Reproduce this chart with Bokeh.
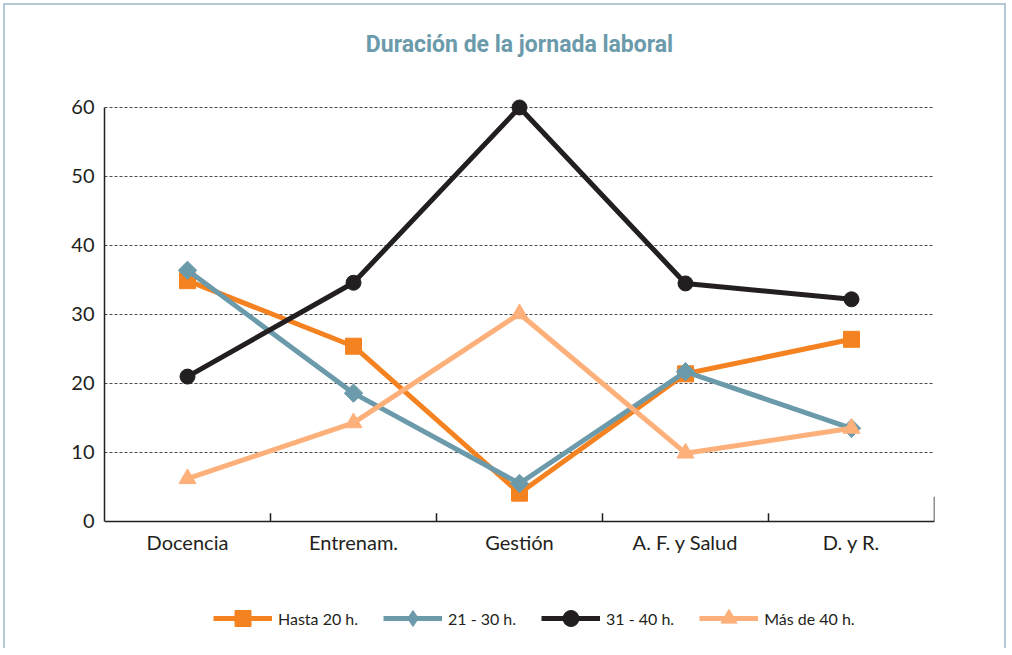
import math
from bokeh.plotting import figure
from bokeh.models import FactorRange, Range1d, Legend, LegendItem, FixedTicker, Span, Label
from bokeh.embed import file_html
from bokeh.resources import INLINE

categories = ["Docencia", "Entrenam.", "Gestión", "A. F. y Salud", "D. y R."]
hasta_20 = [34.9, 25.4, 4.1, 21.4, 26.4]
h21_30 = [36.4, 18.6, 5.5, 21.7, 13.5]
h31_40 = [21.0, 34.6, 60.0, 34.5, 32.2]
mas_40 = [6.2, 14.3, 30.1, 9.9, 13.5]
series_labels = ["Hasta 20 h.", "21 - 30 h.", "31 - 40 h.", "Más de 40 h."]
y_ticks = [0, 10, 20, 30, 40, 50, 60]
title_text = "Duración de la jornada laboral"

TXT = "#231f20"
W, H = 1003, 645
# the frame fills the canvas vertically so that the title and the legend,
# drawn as annotations, stay inside it; 0..60 keeps 6.9 px per unit
p = figure(width=W, height=H,
           x_range=FactorRange(factors=categories, range_padding=0),
           y_range=Range1d(-17.54, 74.78),
           output_backend="svg", toolbar_location=None,
           min_border_left=99, min_border_right=74,
           min_border_top=0, min_border_bottom=8)
p.styles = {"margin-left": "3px", "margin-top": "3px",
            "border-top": "2px solid #b4c9d3",
            "border-left": "2px solid #b4c9d3",
            "border-right": "2px solid #b4c9d3"}
p.outline_line_color = None
p.background_fill_color = "white"
p.border_fill_color = "white"

# title
p.add_layout(Label(x=len(categories) / 2, y=69.13, text=title_text,
                   text_align="center", text_baseline="middle",
                   text_font="Roboto", text_font_size="23px",
                   text_font_style="bold", text_color="#6b9aab"))

# y axis
p.yaxis.ticker = FixedTicker(ticks=y_ticks)
p.yaxis.bounds = (y_ticks[0], y_ticks[-1])
p.yaxis.major_tick_line_color = None
p.yaxis.minor_tick_line_color = None
p.yaxis.major_label_text_font = "Lato"
p.yaxis.major_label_text_font_size = "20px"
p.yaxis.major_label_text_color = TXT
p.yaxis.major_label_standoff = 4
p.yaxis.axis_line_color = TXT
p.yaxis.axis_line_width = 1.5

# x axis: category labels drawn inside the frame just under the zero line
p.xaxis.fixed_location = -4.2
p.xaxis.axis_line_color = None
p.xaxis.major_tick_line_color = None
p.xaxis.major_tick_out = 0
p.xaxis.major_tick_in = 0
p.xaxis.major_label_text_font = "Lato"
p.xaxis.major_label_text_font_size = "20px"
p.xaxis.major_label_text_color = TXT
p.xaxis.major_label_standoff = -20
p.add_layout(Span(location=0, dimension="width", line_color=TXT, line_width=1.5))

p.xgrid.grid_line_color = None
p.ygrid.ticker = FixedTicker(ticks=y_ticks[1:])
p.ygrid.grid_line_color = "#4d4d4d"
p.ygrid.grid_line_dash = "3 2"
p.ygrid.grid_line_width = 1

# category boundary ticks (pointing inward); numbers are synthetic
# category-range coordinates (boundary after each category)
bx = list(range(1, len(categories) + 1))
p.segment(x0=bx, x1=bx, y0=[0] * len(bx), y1=[1.2] * (len(bx) - 1) + [3.6],
          line_color=TXT, line_width=1.5)

colors = ["#f58220", "#6b9aab", "#231f20", "#fdb07a"]
markers = ["square", "square", "circle", "triangle"]
legend_markers = ["square", "diamond", "circle", "triangle"]
sizes = [16, 13, 15, 17]
angles = [0, math.pi / 4, 0, 0]
data = [hasta_20, h21_30, h31_40, mas_40]

items = []
for lab, vals, c, m, lm, s, a in zip(series_labels, data, colors, markers,
                                     legend_markers, sizes, angles):
    lr = p.line(categories, vals, line_color=c, line_width=5)
    sr = p.scatter(categories, vals, marker=m, size=s, angle=a,
                   fill_color=c, line_color=c, line_width=1)
    if lm != m:
        # legend-only proxy (not drawn: its single value is NaN)
        sr = p.scatter(x=[categories[0]], y=[float("nan")], marker=lm,
                       size=s, fill_color=c, line_color=c)
    items.append(LegendItem(label=lab, renderers=[lr, sr]))

legend = Legend(items=items, orientation="horizontal", location=(109, 4),
                glyph_width=59, glyph_height=40, label_height=40,
                label_standoff=6, spacing=25, padding=0, margin=0,
                border_line_color=None, background_fill_alpha=0,
                label_text_font="Lato", label_text_font_size="16px",
                label_text_color=TXT)
p.add_layout(legend, "center")

open("out.html", "w").write(file_html(p, INLINE))
